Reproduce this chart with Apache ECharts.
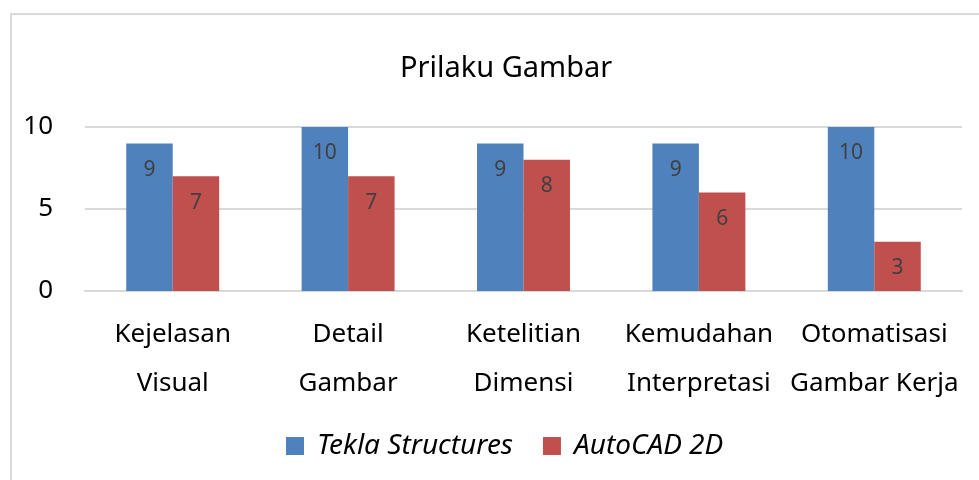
<!DOCTYPE html>
<html>
<head>
<meta charset="utf-8">
<script src="https://cdn.jsdelivr.net/npm/echarts@6/dist/echarts.min.js"></script>
<style>
html,body{margin:0;padding:0;background:#fff;}
#main{width:979px;height:480px;}
</style>
</head>
<body>
<div id="main"></div>
<script>
var categories = ['Kejelasan\nVisual', 'Detail\nGambar', 'Ketelitian\nDimensi', 'Kemudahan\nInterpretasi', 'Otomatisasi\nGambar Kerja'];
var tekla = [9, 10, 9, 9, 10];
var autocad = [7, 7, 8, 6, 3];
var seriesNames = ['Tekla Structures', 'AutoCAD 2D'];

window.addEventListener('load', function () {
    var chart = echarts.init(document.getElementById('main'));
    var font = '"Noto Sans", "Open Sans", sans-serif';
    var barLabel = {
        show: true,
        position: 'insideTop',
        distance: 16,
        color: '#404040',
        fontSize: 21,
        fontFamily: font
    };
    var option = {
        animation: false,
        textStyle: {fontFamily: font},
        graphic: [{
            type: 'rect',
            shape: {x: 11, y: 14, width: 1000, height: 500},
            style: {fill: 'none', stroke: '#d9d9d9', lineWidth: 2},
            silent: true
        }],
        title: {
            text: 'Prilaku Gambar',
            left: 395,
            top: 49,
            textStyle: {fontSize: 29, fontWeight: 'normal', color: '#000', fontFamily: font}
        },
        legend: {
            data: seriesNames,
            top: 427,
            left: 281,
            itemWidth: 18,
            itemHeight: 18,
            itemGap: 30,
            icon: 'rect',
            textStyle: {fontSize: 28, fontStyle: 'italic', color: '#000', fontFamily: font, padding: [0, 0, 0, 8]}
        },
        grid: {left: 85, right: 17, top: 127, bottom: 189},
        xAxis: {
            type: 'category',
            data: categories,
            axisLine: {show: true, lineStyle: {color: '#d9d9d9', width: 2}},
            axisTick: {show: false},
            axisLabel: {fontSize: 26, color: '#000', lineHeight: 49, margin: 19, interval: 0, fontFamily: font}
        },
        yAxis: {
            type: 'value',
            min: 0,
            max: 10,
            interval: 5,
            axisLine: {show: false},
            axisTick: {show: false},
            splitLine: {lineStyle: {color: '#d9d9d9', width: 2}},
            axisLabel: {fontSize: 26, color: '#000', margin: 32, fontFamily: font}
        },
        series: [{
            name: seriesNames[0],
            type: 'bar',
            data: tekla,
            barGap: '0%',
            barCategoryGap: '47%',
            itemStyle: {color: '#4f81bd'},
            label: barLabel
        }, {
            name: seriesNames[1],
            type: 'bar',
            data: autocad,
            itemStyle: {color: '#c0504d'},
            label: barLabel
        }]
    };
    chart.setOption(option);
});
</script>
</body>
</html>
